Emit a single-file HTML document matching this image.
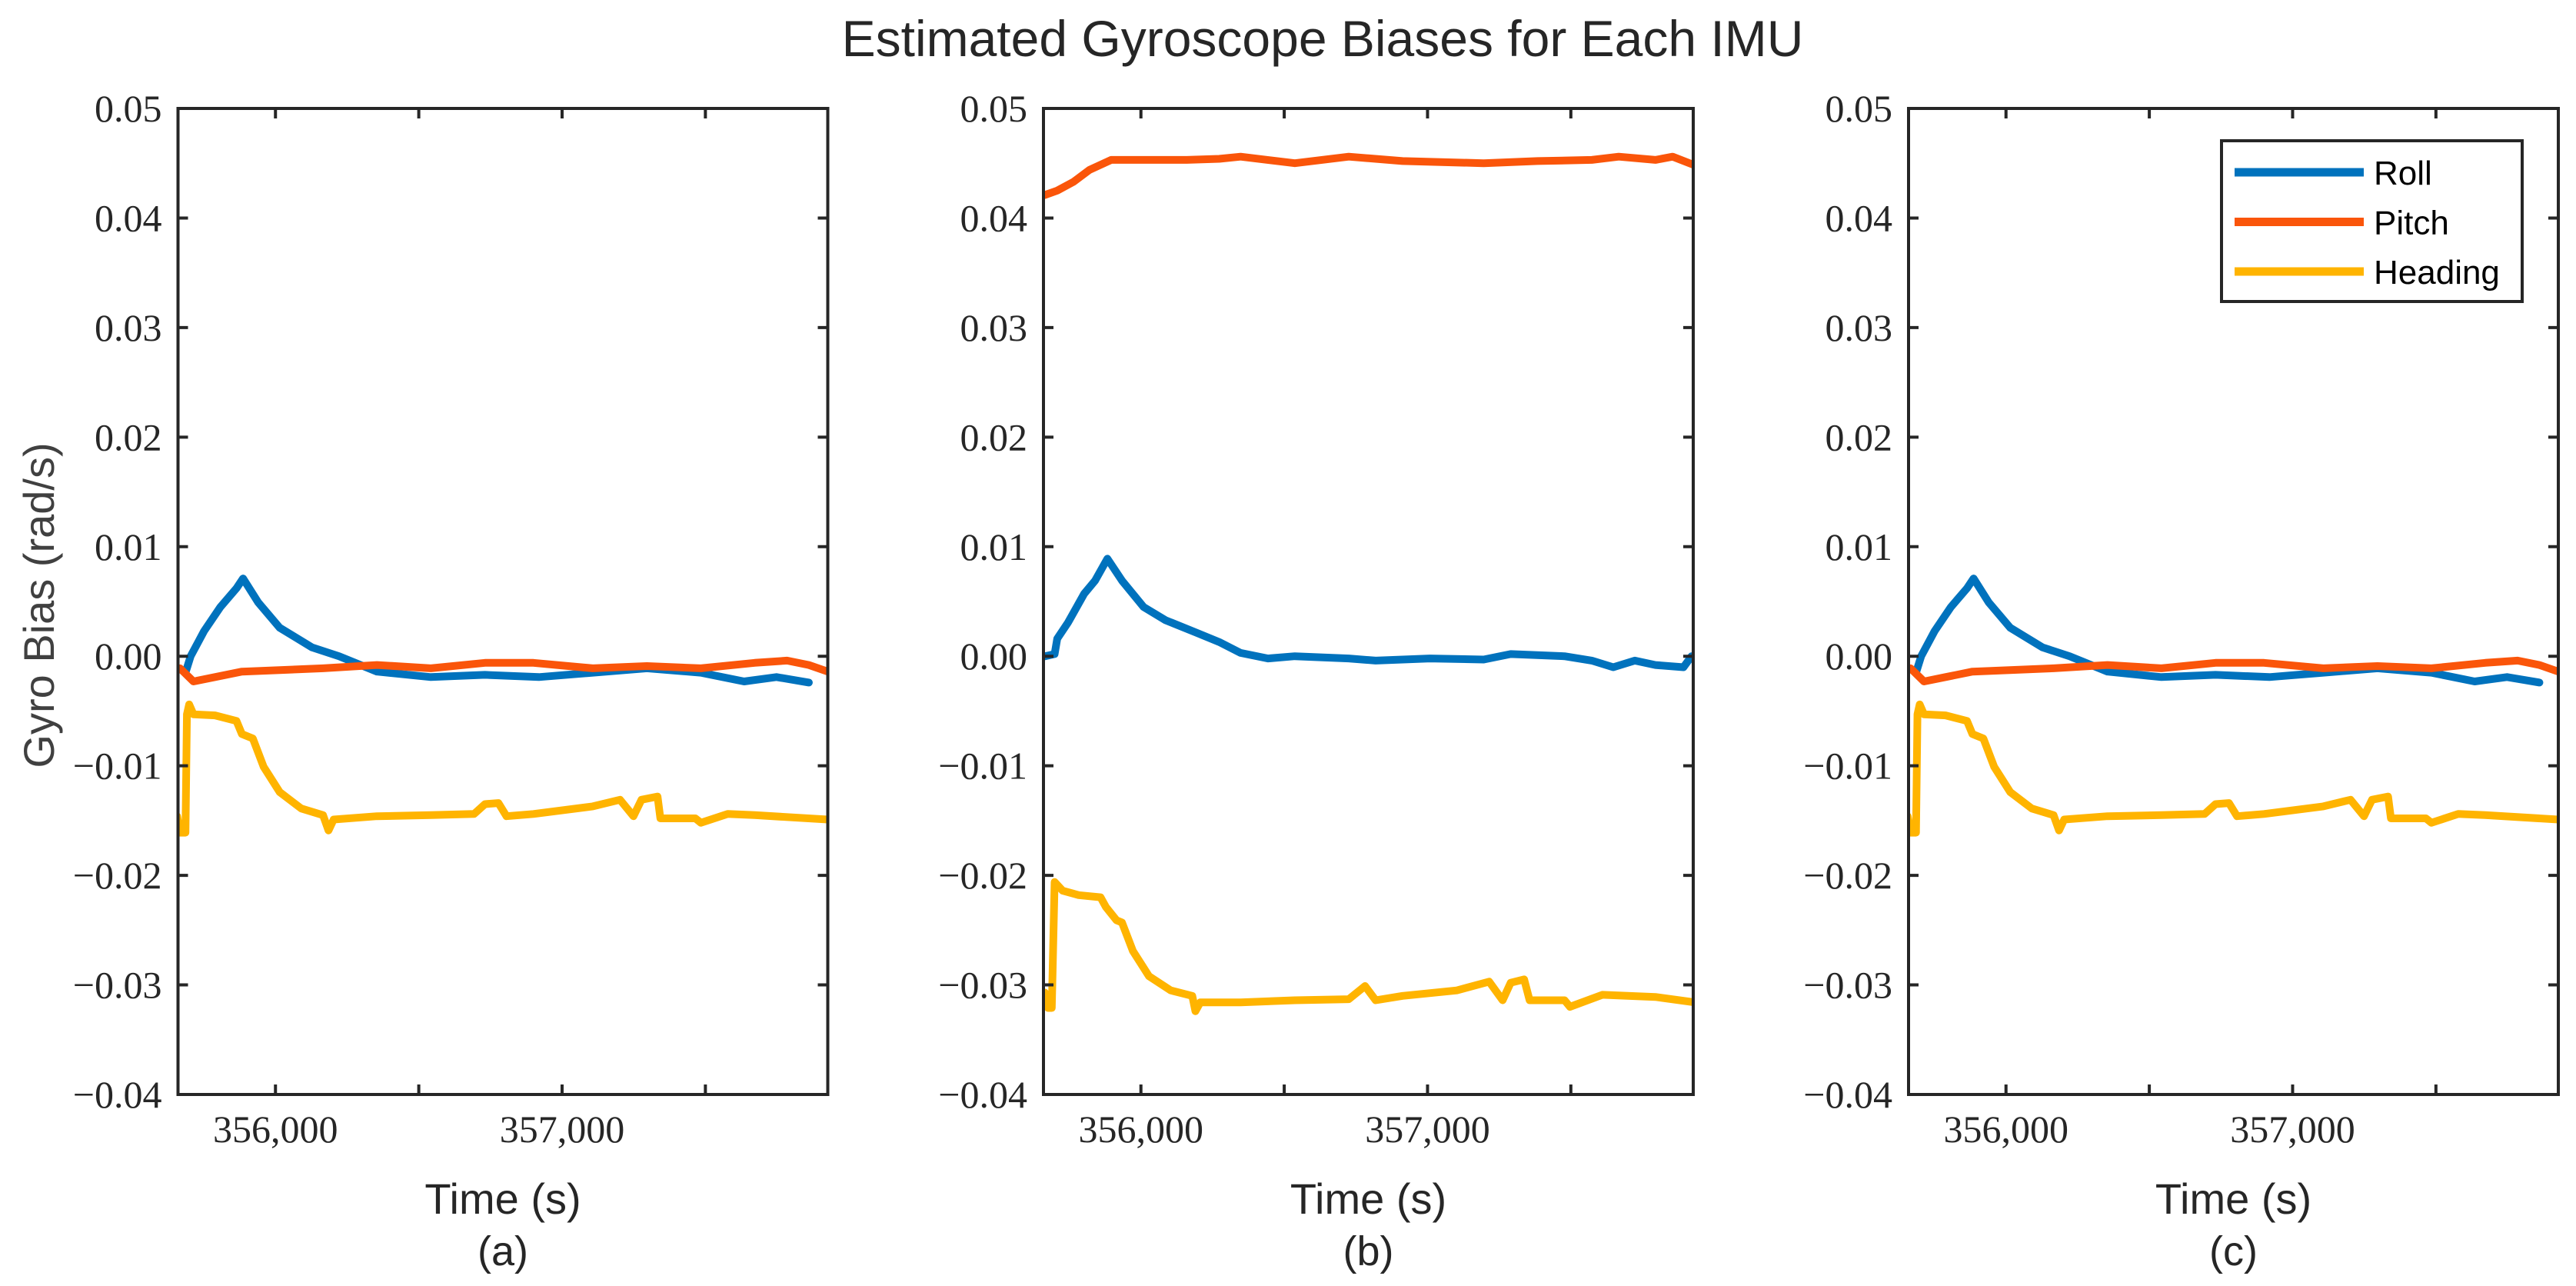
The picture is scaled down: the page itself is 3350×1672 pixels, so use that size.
<!DOCTYPE html>
<html><head><meta charset="utf-8"><style>
html,body{margin:0;padding:0;background:#fff;}
svg{display:block;}
</style></head><body>
<svg id="fig" width="3350" height="1672" viewBox="0 0 3350 1672" xmlns="http://www.w3.org/2000/svg">
<rect width="3350" height="1672" fill="#fff"/>
<text x="1720" y="73" font-family="Liberation Sans, sans-serif" font-size="66" fill="#262626" text-anchor="middle">Estimated Gyroscope Biases for Each IMU</text>
<text transform="translate(70,787) rotate(-90)" font-family="Liberation Sans, sans-serif" font-size="56" fill="#404040" text-anchor="middle">Gyro Bias (rad/s)</text>
<g id="panels"></g>
</svg>
<script>
// ---- data ----
const yTicks = [0.05,0.04,0.03,0.02,0.01,0.00,-0.01,-0.02,-0.03,-0.04];
const yTickLabels = ["0.05","0.04","0.03","0.02","0.01","0.00","\u22120.01","\u22120.02","\u22120.03","\u22120.04"];
const xTicks = [356000,356500,357000,357500];
const xTickLabels = ["356,000","","357,000",""];
const panelLabels = ["(a)","(b)","(c)"];
const seriesNames = ["Roll","Pitch","Heading"];

const rollA_t = [355686,355704,355751,355808,355864,355887,355940,356015,356128,356222,356354,356542,356731,356919,357107,357296,357484,357635,357748,357861];
const rollA_v = [-0.0015,0,0.0023,0.0045,0.0062,0.0071,0.0049,0.0026,0.0008,0.0,-0.0014,-0.0019,-0.0017,-0.0019,-0.0015,-0.0011,-0.0015,-0.0023,-0.0019,-0.0024];
const pitchA_t = [355667,355714,355789,355883,356166,356354,356542,356731,356900,357107,357296,357484,357672,357785,357861,357927];
const pitchA_v = [-0.0011,-0.0023,-0.0019,-0.0014,-0.0011,-0.0008,-0.0011,-0.0006,-0.0006,-0.0011,-0.0009,-0.0011,-0.0006,-0.0004,-0.0008,-0.0014];
const headA_t = [355657,355667,355686,355691,355699,355714,355789,355864,355883,355921,355959,356015,356090,356166,356185,356203,356354,356542,356693,356731,356778,356806,356900,357107,357202,357249,357277,357333,357343,357465,357484,357578,357672,357927];
const headA_v = [-0.0146,-0.0161,-0.0161,-0.0053,-0.0044,-0.0053,-0.0054,-0.0059,-0.0071,-0.0075,-0.0101,-0.0124,-0.0139,-0.0145,-0.0159,-0.0149,-0.0146,-0.0145,-0.0144,-0.0135,-0.0134,-0.0146,-0.0144,-0.0137,-0.0131,-0.0146,-0.0131,-0.0128,-0.0148,-0.0148,-0.0152,-0.0144,-0.0145,-0.0149];

const rollB_t = [355665,355699,355708,355746,355802,355840,355883,355934,356009,356085,356198,356273,356348,356443,356537,356725,356819,357008,357196,357290,357478,357573,357648,357723,357795,357893,357921];
const rollB_v = [0,0.0002,0.0016,0.0031,0.0057,0.0069,0.0089,0.0069,0.0045,0.0033,0.0021,0.0013,0.0003,-0.0002,0,-0.0002,-0.0004,-0.0002,-0.0003,0.0002,0,-0.0004,-0.001,-0.0004,-0.0008,-0.001,0];
const pitchB_t = [355665,355708,355765,355821,355896,356160,356273,356348,356537,356725,356913,357196,357384,357573,357667,357795,357855,357934];
const pitchB_v = [0.0421,0.0425,0.0433,0.0444,0.0453,0.0453,0.0454,0.0456,0.0450,0.0456,0.0452,0.0450,0.0452,0.0453,0.0456,0.0453,0.0456,0.0448];
const headB_t = [355665,355676,355689,355699,355727,355783,355859,355878,355915,355934,355972,356028,356104,356179,356190,356207,356348,356537,356725,356782,356819,356913,357102,357215,357262,357290,357337,357356,357478,357497,357610,357795,357934];
const headB_v = [-0.0307,-0.0321,-0.0321,-0.0206,-0.0214,-0.0218,-0.0220,-0.0229,-0.0241,-0.0243,-0.0269,-0.0292,-0.0305,-0.0310,-0.0324,-0.0316,-0.0316,-0.0314,-0.0313,-0.0301,-0.0314,-0.0310,-0.0305,-0.0297,-0.0314,-0.0298,-0.0295,-0.0314,-0.0314,-0.0320,-0.0309,-0.0311,-0.0316];

const rollC_t = rollA_t.slice(), rollC_v = rollA_v.slice();
const pitchC_t = pitchA_t.slice(), pitchC_v = pitchA_v.slice();
const headC_t = headA_t.slice(), headC_v = headA_v.slice();

// ---- layout ----
const NS = "http://www.w3.org/2000/svg";
const colors = ["#0072BD","#FA550A","#FFB400"];
const panelLeft = [231.5,1357,2482], PW = 845, TOP = 141, BOT = 1423;
const XMIN = 355660, XMAX = 357927, YMIN = -0.04, YMAX = 0.05;
const panelsData = [
  [[rollA_t,rollA_v],[pitchA_t,pitchA_v],[headA_t,headA_v]],
  [[rollB_t,rollB_v],[pitchB_t,pitchB_v],[headB_t,headB_v]],
  [[rollC_t,rollC_v],[pitchC_t,pitchC_v],[headC_t,headC_v]]
];
const root = document.getElementById("panels");
function mk(tag, attrs){const e=document.createElementNS(NS,tag);for(const k in attrs)e.setAttribute(k,attrs[k]);return e;}

panelsData.forEach((series, p) => {
  const L = panelLeft[p], R = L + PW;
  const sx = t => L + (t - XMIN) / (XMAX - XMIN) * PW;
  const sy = v => BOT - (v - YMIN) / (YMAX - YMIN) * (BOT - TOP);
  const g = mk("g", {});
  
  
  root.appendChild(g);
  const cp = mk("clipPath", {id: "clip" + p});
  cp.appendChild(mk("rect", {x: L, y: TOP, width: PW, height: BOT - TOP}));
  g.appendChild(cp);
  series.forEach((s, i) => {
    const d = s[0].map((t, k) => (k ? "L" : "M") + sx(t).toFixed(1) + "," + sy(s[1][k]).toFixed(1)).join("");
    const path = mk("path", {d: d, fill: "none", stroke: colors[i], "stroke-width": 10, "stroke-linejoin": "round", "stroke-linecap": "round", "clip-path": "url(#clip" + p + ")"});
    
    
    g.appendChild(path);
  });
  const frame = mk("rect", {x: L, y: TOP, width: PW, height: BOT - TOP, fill: "none", stroke: "#262626", "stroke-width": 4});
  
  
  g.appendChild(frame);
  yTicks.forEach((v, i) => {
    const y = sy(v);
    g.appendChild(mk("path", {d: `M${L},${y}h13M${R},${y}h-13`, stroke: "#262626", "stroke-width": 4}));
    const tx = mk("text", {x: L - 21, y: y + 17, "text-anchor": "end", "font-family": "Liberation Serif, serif", "font-size": 50, fill: "#262626"});
    tx.textContent = yTickLabels[i];
    
    
    g.appendChild(tx);
  });
  xTicks.forEach((t, i) => {
    const x = sx(t);
    g.appendChild(mk("path", {d: `M${x},${BOT}v-13M${x},${TOP}v13`, stroke: "#262626", "stroke-width": 4}));
    if (xTickLabels[i]) {
      const tx = mk("text", {x: x, y: 1485, "text-anchor": "middle", "font-family": "Liberation Serif, serif", "font-size": 50, fill: "#262626"});
      tx.textContent = xTickLabels[i];
      
      
      g.appendChild(tx);
    }
  });
  const xl = mk("text", {x: L + PW / 2, y: 1578, "text-anchor": "middle", "font-family": "Liberation Sans, sans-serif", "font-size": 56, fill: "#262626"});
  xl.textContent = "Time (s)";
  
  
  g.appendChild(xl);
  const pl = mk("text", {x: L + PW / 2, y: 1645, "text-anchor": "middle", "font-family": "Liberation Sans, sans-serif", "font-size": 54, fill: "#262626"});
  pl.textContent = panelLabels[p];
  
  
  g.appendChild(pl);
});

const lg = mk("g", {});


root.appendChild(lg);
lg.appendChild(mk("rect", {x: 2889, y: 183, width: 391, height: 209, fill: "#fff", stroke: "#262626", "stroke-width": 4}));
seriesNames.forEach((n, i) => {
  const y = 224 + i * 64.5;
  const e = mk("g", {});
  
  
  e.appendChild(mk("line", {x1: 2906, x2: 3074, y1: y, y2: y, stroke: colors[i], "stroke-width": 11}));
  const t = mk("text", {x: 3087, y: y + 16, "font-family": "Liberation Sans, sans-serif", "font-size": 44, fill: "#000"});
  t.textContent = n;
  e.appendChild(t);
  lg.appendChild(e);
});
</script>
</body></html>
